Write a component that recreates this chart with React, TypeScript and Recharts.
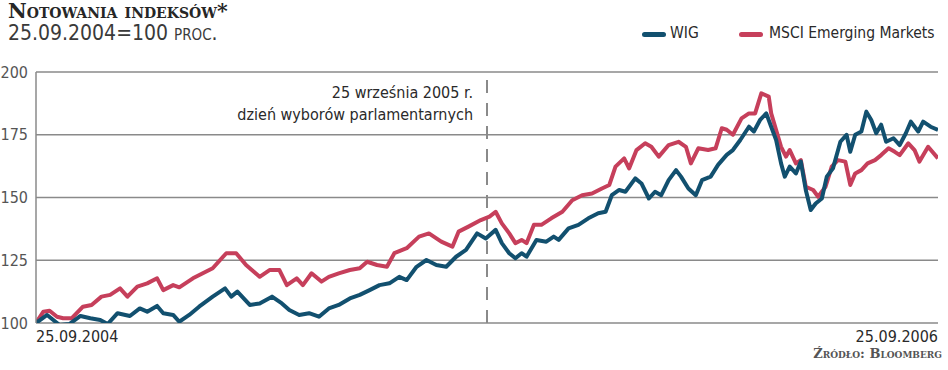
import React from "react";
import { LineChart, Line, XAxis, YAxis, CartesianGrid, ReferenceLine } from "recharts";

// days since 25.09.2004
const wigDays = [0, 9, 14, 19, 27, 36, 44, 52, 58, 66, 76, 84, 90, 98, 103, 111, 116, 124, 132, 143, 153, 158, 163, 173, 181, 191, 199, 205, 213, 221, 229, 237, 245, 254, 262, 270, 278, 286, 294, 300, 308, 316, 324, 332, 340, 348, 357, 364, 372, 377, 383, 388, 393, 397, 405, 413, 419, 423, 431, 439, 447, 455, 461, 466, 472, 477, 485, 490, 496, 501, 506, 512, 518, 522, 528, 534, 539, 546, 552, 559, 564, 570, 577, 581, 586, 591, 595, 599, 603, 606, 610, 615, 619, 623, 627, 631, 636, 640, 645, 651, 656, 659, 663, 668, 672, 676, 680, 684, 688, 694, 699, 704, 708, 714, 718, 724, 730];
const wigValues = [100, 103.2, 101.2, 99.2, 99.6, 102.8, 101.9, 101.2, 99.6, 103.9, 102.8, 105.8, 104.5, 106.8, 103.9, 103.2, 100.5, 103.2, 106.5, 110.5, 113.8, 110.5, 112.5, 107.2, 107.8, 110.5, 107.8, 105.2, 103.2, 103.9, 102.5, 105.8, 107.2, 109.8, 111.2, 113.1, 115.1, 115.8, 118.4, 117.1, 122.4, 125.1, 123.1, 122.4, 126.4, 129.1, 135.7, 133.7, 137.1, 131.8, 127.8, 125.8, 127.8, 126.4, 133.1, 132.4, 134.4, 133.1, 137.7, 139.1, 141.7, 143.7, 144.3, 150.9, 153.0, 152.3, 157.6, 155.6, 149.6, 152.3, 150.9, 156.9, 160.9, 158.3, 153.6, 150.9, 156.9, 158.3, 163, 167, 168.9, 172.9, 178.2, 176.3, 180.9, 183.5, 178.2, 172.9, 163.6, 158.3, 162.3, 159.6, 164.3, 153.0, 145.0, 147.6, 149.6, 158.3, 161.6, 172.2, 175.0, 168.2, 175.0, 176.3, 184.2, 180.9, 175.6, 179.0, 172.2, 173.6, 170.9, 175.6, 180.2, 176.3, 180.2, 178.2, 176.9];

const msciDays = [0, 6, 11, 17, 22, 29, 38, 45, 53, 60, 68, 74, 82, 90, 98, 103, 111, 116, 127, 135, 143, 154, 162, 170, 181, 189, 197, 203, 211, 216, 223, 231, 237, 245, 254, 262, 268, 276, 284, 290, 300, 310, 318, 328, 337, 342, 350, 360, 367, 372, 377, 383, 388, 393, 397, 403, 409, 417, 426, 434, 442, 450, 458, 464, 469, 476, 480, 486, 493, 498, 504, 512, 520, 526, 530, 536, 544, 550, 555, 559, 564, 571, 577, 582, 587, 593, 595, 599, 603, 607, 610, 615, 619, 623, 629, 633, 639, 644, 649, 655, 659, 663, 668, 673, 679, 684, 690, 695, 699, 706, 711, 715, 722, 730];
const msciValues = [100, 104.5, 104.9, 102.5, 101.9, 101.9, 106.5, 107.2, 110.5, 111.2, 113.8, 110.5, 114.5, 115.8, 117.8, 113.1, 115.1, 114.2, 117.8, 119.8, 121.8, 127.8, 127.8, 123.1, 118.4, 121.1, 121.1, 115.1, 117.8, 115.1, 119.8, 116.5, 118.4, 119.8, 121.1, 121.8, 124.4, 123.1, 122.4, 127.8, 129.8, 134.4, 135.7, 132.4, 130.4, 136.4, 138.4, 141.0, 142.4, 144.3, 139.7, 135.7, 131.8, 133.1, 131.8, 139.1, 139.1, 141.7, 144.3, 148.9, 150.9, 151.6, 153.6, 155.0, 162.3, 165.6, 161.6, 168.9, 171.6, 170.2, 166.3, 170.9, 172.2, 170.2, 163.6, 169.6, 168.9, 169.6, 177.6, 177, 175.0, 181.5, 183.5, 183.5, 191.5, 190.2, 183.5, 176.9, 170.2, 166.3, 168.9, 163.6, 164.9, 154.3, 153.0, 150.3, 154.3, 162.3, 164.9, 164.3, 155.0, 159.6, 160.9, 163.6, 164.9, 166.9, 169.6, 168.2, 166.9, 171.6, 168.9, 164.3, 170.2, 165.6];

const yTicks = [100, 125, 150, 175, 200];
const xTickLabels = ["25.09.2004", "25.09.2006"];
const xTicks = [0, 730];
const electionDay = 365;
const seriesNames = ["WIG", "MSCI Emerging Markets"];

const wigData = wigDays.map((d, i) => ({ d, v: wigValues[i] }));
const msciData = msciDays.map((d, i) => ({ d, v: msciValues[i] }));

const BLUE = "#12506f";
const RED = "#c63f5b";
const GRID = "#8a8a8a";
const COND = "'Liberation Sans Narrow', 'DejaVu Sans Condensed', 'Roboto Condensed', sans-serif";
const SERIF = "'DejaVu Serif', 'Liberation Serif', serif";

const XTick = (props: any) => {
  const { x, y, index } = props;
  const anchor = index === 0 ? "start" : "end";
  return (
    <text x={index === 0 ? x : x + 2} y={y + 11} textAnchor={anchor} fontFamily={COND} fontSize={16} fill="#2a2a2a">
      {xTickLabels[index]}
    </text>
  );
};

const swatch = (color: string, left: number) => (
  <span style={{ position: "absolute", left, top: 32, width: 24, height: 5, borderRadius: 3, background: color }} />
);

export default function App() {
  return (
    <div style={{ position: "absolute", left: 0, top: 0, width: 948, height: 370, background: "#fff", overflow: "hidden" }}>
      <LineChart width={948} height={370} margin={{ top: 72, right: 10, bottom: 0, left: 0 }}>
        <CartesianGrid vertical={false} stroke={GRID} strokeWidth={1.5} />
        <XAxis
          dataKey="d"
          type="number"
          domain={[0, 730]}
          ticks={xTicks}
          axisLine={false}
          tickLine={false}
          height={47}
          tick={<XTick />}
          allowDataOverflow
        />
        <YAxis
          domain={[100, 200]}
          ticks={yTicks}
          width={36}
          axisLine={{ stroke: GRID, strokeWidth: 1.5 }}
          tickLine={false}
          tick={{ fill: "#555", fontSize: 16, fontFamily: COND }}
          allowDataOverflow
        />
        <ReferenceLine x={electionDay} stroke={GRID} strokeWidth={2} strokeDasharray="13 10" />
        <Line data={msciData} dataKey="v" stroke={RED} strokeWidth={4} dot={false} isAnimationActive={false} strokeLinejoin="round" />
        <Line data={wigData} dataKey="v" stroke={BLUE} strokeWidth={4} dot={false} isAnimationActive={false} strokeLinejoin="round" />
      </LineChart>

      <div style={{ position: "absolute", left: 8, top: 2, fontFamily: SERIF, fontWeight: 700, fontVariant: "small-caps", fontSize: 20.5, lineHeight: "19px", color: "#262626", whiteSpace: "nowrap" }}>
        Notowania indeksów*
      </div>
      <div style={{ position: "absolute", left: 8, top: 22, fontFamily: COND, fontSize: 21, lineHeight: "22px", color: "#3a3a3a", whiteSpace: "nowrap" }}>
        25.09.2004=100 <span style={{ fontVariant: "small-caps" }}>proc.</span>
      </div>

      {swatch(BLUE, 642)}
      <span style={{ position: "absolute", left: 670, top: 24, fontFamily: COND, fontSize: 15.5, color: "#2a2a2a", whiteSpace: "nowrap" }}>{seriesNames[0]}</span>
      {swatch(RED, 739)}
      <span style={{ position: "absolute", left: 769, top: 24, fontFamily: COND, fontSize: 15.5, color: "#2a2a2a", whiteSpace: "nowrap" }}>{seriesNames[1]}</span>

      <div style={{ position: "absolute", right: 948 - 473, top: 82, textAlign: "right", fontFamily: COND, fontSize: 16, lineHeight: "22px", color: "#2a2a2a", whiteSpace: "nowrap" }}>
        25 września 2005 r.<br />dzień wyborów parlamentarnych
      </div>

      <div style={{ position: "absolute", right: 6, top: 347, fontFamily: SERIF, fontWeight: 700, fontVariant: "small-caps", fontSize: 13, lineHeight: "14px", color: "#555", whiteSpace: "nowrap" }}>
        Źródło: Bloomberg
      </div>
    </div>
  );
}
